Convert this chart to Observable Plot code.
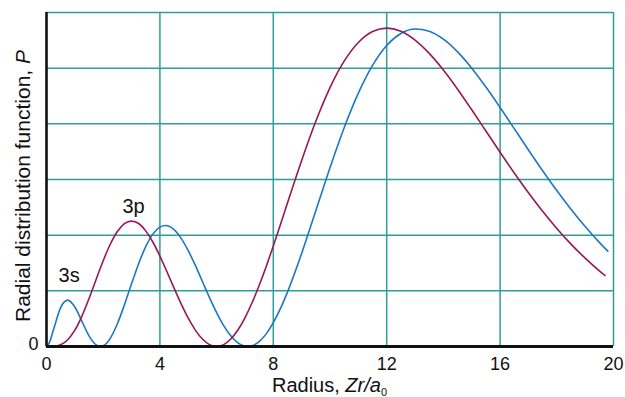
<!DOCTYPE html>
<html><head><meta charset="utf-8">
<script src="https://cdn.jsdelivr.net/npm/d3@7"></script>
<script src="https://cdn.jsdelivr.net/npm/@observablehq/plot@0.6"></script>
<style>body{margin:0;background:#fff;} svg{display:block}</style>
</head><body><div id="chart"></div>
<script>
// Radial distribution functions (arbitrary units, 0–6 grid)
const radius3s = [0, 0.1, 0.25, 0.5, 0.75, 1.0, 1.25, 1.5, 1.75, 1.902, 2.0, 2.25, 2.5, 2.75, 3.0, 3.25, 3.5, 3.75, 4.0, 4.2, 4.5, 4.75, 5.0, 5.25, 5.5, 5.75, 6.0, 6.25, 6.5, 6.75, 7.0, 7.098, 7.25, 7.5, 7.75, 8.0, 8.25, 8.5, 9.0, 9.5, 10, 10.5, 11, 11.5, 12, 12.5, 13, 13.5, 14, 14.5, 15, 15.5, 16, 16.5, 17, 17.5, 18, 18.5, 19, 19.5, 19.8];
const p3s = [0, 0.068, 0.309, 0.700, 0.833, 0.709, 0.451, 0.191, 0.029, 0, 0.012, 0.147, 0.408, 0.751, 1.126, 1.488, 1.794, 2.019, 2.145, 2.173, 2.099, 1.943, 1.721, 1.456, 1.168, 0.879, 0.610, 0.376, 0.192, 0.066, 0.005, 0, 0.013, 0.088, 0.227, 0.427, 0.679, 0.977, 1.672, 2.439, 3.211, 3.930, 4.551, 5.049, 5.407, 5.623, 5.704, 5.664, 5.520, 5.292, 4.999, 4.660, 4.293, 3.913, 3.531, 3.158, 2.801, 2.465, 2.154, 1.870, 1.713];

const radius3p = [0, 0.25, 0.5, 0.75, 1.0, 1.25, 1.5, 1.75, 2.0, 2.25, 2.5, 2.75, 3.0, 3.25, 3.5, 3.75, 4.0, 4.25, 4.5, 4.75, 5.0, 5.25, 5.5, 5.75, 6.0, 6.25, 6.5, 6.75, 7.0, 7.25, 7.5, 7.75, 8.0, 8.25, 8.5, 9.0, 9.5, 10, 10.5, 11, 11.5, 12, 12.5, 13, 13.5, 14, 14.5, 15, 15.5, 16, 16.5, 17, 17.5, 18, 18.5, 19, 19.5, 19.7];
const p3p = [0, 0.003, 0.031, 0.121, 0.293, 0.547, 0.861, 1.205, 1.541, 1.837, 2.065, 2.206, 2.253, 2.209, 2.077, 1.877, 1.625, 1.342, 1.049, 0.766, 0.509, 0.295, 0.134, 0.034, 0, 0.034, 0.134, 0.296, 0.516, 0.785, 1.096, 1.439, 1.807, 2.189, 2.578, 3.343, 4.047, 4.652, 5.127, 5.462, 5.658, 5.720, 5.663, 5.505, 5.266, 4.966, 4.622, 4.252, 3.871, 3.489, 3.117, 2.762, 2.429, 2.121, 1.840, 1.587, 1.360, 1.277];

const xTicks = [0, 4, 8, 12, 16, 20];
const xGrid = [4, 8, 12, 16, 20];
const yGrid = [1, 2, 3, 4, 5, 6];
const yTicks = [0];
const curveNames = ["3s", "3p"];
const labelX = [0.8, 3.07];
const labelY = [1.27, 2.51];

const rows = [
  ...radius3s.map((r, i) => ({orbital: "3s", r, p: p3s[i]})),
  ...radius3p.map((r, i) => ({orbital: "3p", r, p: p3p[i]}))
];
const labels = curveNames.map((name, i) => ({name, x: labelX[i], y: labelY[i]}));

const FONT = "'Liberation Sans', Arial, Helvetica, sans-serif";
const TEAL = "#2f9d9b";
const BLUE = "#1d77c2";
const MAROON = "#971858";

const chart = Plot.plot({
  width: 625, height: 397,
  marginLeft: 46, marginRight: 12, marginTop: 12, marginBottom: 51,
  style: {fontFamily: FONT, background: "#fff", color: "#111", overflow: "visible"},
  x: {domain: [0, 20]},
  y: {domain: [0, 6]},
  color: {domain: curveNames, range: [BLUE, MAROON]},
  marks: [
    Plot.ruleX(xGrid, {stroke: TEAL, strokeWidth: 1.5}),
    Plot.ruleY(yGrid, {stroke: TEAL, strokeWidth: 1.5}),
    Plot.line(rows, {x: "r", y: "p", z: "orbital", stroke: "orbital", strokeWidth: 1.6, curve: "monotone-x"}),
    Plot.ruleX([0], {stroke: "#111", strokeWidth: 2.6}),
    Plot.ruleY([0], {stroke: "#111", strokeWidth: 2.8}),
    Plot.axisX({ticks: xTicks, tickSize: 0, tickPadding: 11, fontSize: 18, label: null, tickFormat: d => String(d)}),
    Plot.axisY({ticks: yTicks, tickSize: 0, tickPadding: 8, fontSize: 18, label: null, dy: -2, tickFormat: d => String(d)}),
    Plot.text(labels, {x: "x", y: "y", text: "name", fontSize: 20, fill: "#111"})
  ]
});

const svg = d3.select(chart);
const xs = chart.scale("x");
const xMid = (xs.apply(0) + xs.apply(20)) / 2;

const xl = svg.append("text")
  .attr("x", xMid).attr("y", 392)
  .attr("text-anchor", "middle")
  .attr("font-family", FONT).attr("font-size", 20).attr("fill", "#111");
xl.append("tspan").text("Radius, ");
xl.append("tspan").attr("font-style", "italic").text("Zr/a");
xl.append("tspan").attr("font-size", 11).attr("dy", 4).text("0");

const yl = svg.append("text")
  .attr("transform", "translate(30,186) rotate(-90)")
  .attr("text-anchor", "middle")
  .attr("font-family", FONT).attr("font-size", 21).attr("fill", "#111");
yl.append("tspan").text("Radial distribution function, ");
yl.append("tspan").attr("font-style", "italic").text("P");

document.getElementById("chart").appendChild(chart);
</script>
</body></html>
